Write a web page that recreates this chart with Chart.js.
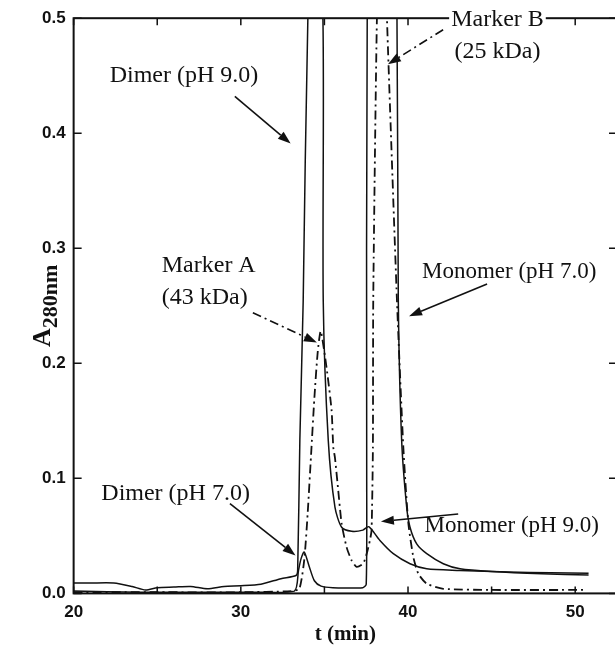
<!DOCTYPE html>
<html lang="en">
<head>
<meta charset="UTF-8">
<title>A280 elution profiles</title>
<script src="https://cdn.jsdelivr.net/npm/chart.js"></script>
<style>
  html, body { margin: 0; padding: 0; background: #fff; overflow: hidden; }
  #wrap { width: 615px; height: 652px; overflow: hidden; }
</style>
</head>
<body>
<div id="wrap">
  <canvas id="myChart" width="622" height="652"></canvas>
</div>
<script>
  // elution time (min) and absorbance for each trace
  const tDimer9 = [20, 21, 22.4, 23.5, 24.3, 25, 26, 27, 28, 29, 30, 31.2, 32.4, 33.3, 33.4, 33.53, 33.73, 34.01, 34.45, 34.91, 34.93, 35.23, 35.63, 36.03, 36.63, 37.3, 37.65, 38.32, 39.12, 40.12, 41.12, 43.1, 46, 48.5, 50.8];
  const aDimer9 = [0.009, 0.009, 0.009, 0.006, 0.003, 0.005, 0.0055, 0.006, 0.004, 0.006, 0.0066, 0.008, 0.0128, 0.0156, 0.02, 0.133, 0.254, 0.5, 0.62, 0.5, 0.254, 0.133, 0.075, 0.0575, 0.054, 0.055, 0.058, 0.046, 0.0345, 0.0258, 0.0214, 0.02, 0.0185, 0.018, 0.0175];

  const tMono7 = [20, 24, 28, 31, 33.2, 33.45, 33.6, 33.79, 34.1, 34.4, 34.8, 35.5, 37.3, 37.5, 37.53, 37.56, 38.45, 39.34, 39.42, 39.62, 39.92, 40.12, 40.52, 41.12, 42.11, 43.11, 45, 48, 50.8];
  const aMono7 = [0.002, 0.001, 0.001, 0.001, 0.002, 0.02, 0.03, 0.036, 0.023, 0.011, 0.0063, 0.005, 0.005, 0.008, 0.1, 0.5, 1.3, 0.5, 0.254, 0.133, 0.075, 0.0575, 0.043, 0.0345, 0.0258, 0.0214, 0.019, 0.017, 0.016];

  const tMarkers = [20, 25, 30, 33, 33.5, 33.8, 34.0, 34.2, 34.4, 34.6, 34.78, 35.13, 35.43, 35.53, 35.63, 35.83, 36.03, 36.33, 36.63, 36.93, 37.32, 37.52, 37.72, 37.82, 37.9, 37.92, 38.14, 38.44, 38.74, 39.34, 39.72, 40.02, 40.32, 40.62, 41.12, 42.11, 45, 50.5];
  const aMarkers = [0.001, 0.001, 0.001, 0.002, 0.004, 0.03, 0.07, 0.12, 0.17, 0.21, 0.228, 0.196, 0.159, 0.127, 0.118, 0.089, 0.0605, 0.04, 0.0286, 0.023, 0.026, 0.034, 0.046, 0.055, 0.127, 0.254, 0.5, 0.65, 0.5, 0.254, 0.127, 0.061, 0.0315, 0.017, 0.0084, 0.004, 0.003, 0.003];

  const xTickValues = [20, 25, 30, 35, 40, 45, 50];
  const yTickValues = [0, 0.1, 0.2, 0.3, 0.4, 0.5];

  // labels: text lines, anchor (t, A); arrows: from/to (t, A), dashed or not
  const notes = [
    { lines: ['Dimer (pH 9.0)'], size: 24, at: [26.6, 0.450], from: [29.64, 0.432], to: [32.98, 0.391], dash: [] },
    { lines: ['Marker B', '(25 kDa)'], size: 24, at: [45.35, 0.499], from: [42.10, 0.490], to: [38.80, 0.460], dash: [9, 4, 2, 4], bg: true },
    { lines: ['Monomer (pH 7.0)'], size: 23, at: [46.05, 0.279], from: [44.73, 0.269], to: [40.06, 0.241], dash: [] },
    { lines: ['Marker A', '(43 kDa)'], size: 24, at: [25.27, 0.2847], align: 'left', from: [30.72, 0.244], to: [34.55, 0.218], dash: [9, 4, 2, 4] },
    { lines: ['Dimer (pH 7.0)'], size: 24, at: [26.1, 0.087], from: [29.35, 0.078], to: [33.27, 0.033], dash: [] },
    { lines: ['Monomer (pH 9.0)'], size: 23, at: [46.2, 0.059], from: [43.0, 0.069], to: [38.38, 0.0625], dash: [] }
  ];

  const pts = (ts, as) => ts.map((t, i) => ({ x: t, y: as[i] }));

  const decor = {
    id: 'decor',
    afterDraw(chart) {
      const { ctx, chartArea: a, scales: { x, y } } = chart;
      ctx.save();
      ctx.strokeStyle = '#111';
      ctx.fillStyle = '#111';
      // frame
      ctx.lineWidth = 2;
      ctx.strokeRect(a.left, a.top, a.right - a.left, a.bottom - a.top);
      // inward ticks
      ctx.lineWidth = 1.5;
      ctx.beginPath();
      xTickValues.forEach(v => {
        const px = x.getPixelForValue(v);
        ctx.moveTo(px, a.bottom); ctx.lineTo(px, a.bottom - 7);
        ctx.moveTo(px, a.top); ctx.lineTo(px, a.top + 7);
      });
      yTickValues.forEach(v => {
        const py = y.getPixelForValue(v);
        ctx.moveTo(a.left, py); ctx.lineTo(a.left + 8, py);
        ctx.moveTo(a.right, py); ctx.lineTo(a.right - 8, py);
      });
      ctx.stroke();

      // y title with subscript
      ctx.save();
      ctx.translate(50, (a.top + a.bottom) / 2);
      ctx.rotate(-Math.PI / 2);
      ctx.textBaseline = 'alphabetic';
      ctx.font = 'bold 26px "Liberation Serif"';
      const w = ctx.measureText('A').width;
      ctx.font = 'bold 22px "Liberation Serif"';
      const w2 = ctx.measureText('280nm').width;
      const sx = -(w + w2) / 2;
      ctx.fillText('280nm', sx + w, 7);
      ctx.font = 'bold 26px "Liberation Serif"';
      ctx.fillText('A', sx, 0);
      ctx.restore();

      // annotations
      ctx.textBaseline = 'middle';
      notes.forEach(n => {
        ctx.font = n.size + 'px "Liberation Serif"';
        const cx = x.getPixelForValue(n.at[0]);
        const cy = y.getPixelForValue(n.at[1]);
        ctx.textAlign = n.align || 'center';
        n.lines.forEach((s, i) => {
          if (n.bg) {
            const tw = ctx.measureText(s).width;
            ctx.fillStyle = '#fff';
            ctx.fillRect(cx - tw / 2 - 2, cy + i * 32 - 12, tw + 4, 24);
            ctx.fillStyle = '#111';
          }
          ctx.fillText(s, cx, cy + i * 32);
        });
        const x0 = x.getPixelForValue(n.from[0]), y0 = y.getPixelForValue(n.from[1]);
        const x1 = x.getPixelForValue(n.to[0]), y1 = y.getPixelForValue(n.to[1]);
        const ang = Math.atan2(y1 - y0, x1 - x0);
        const hl = 13, hw = 4.5;
        const bx = x1 - hl * Math.cos(ang), by = y1 - hl * Math.sin(ang);
        ctx.lineWidth = 1.6;
        ctx.setLineDash(n.dash);
        ctx.beginPath();
        ctx.moveTo(x0, y0); ctx.lineTo(bx, by);
        ctx.stroke();
        ctx.setLineDash([]);
        ctx.beginPath();
        ctx.moveTo(x1, y1);
        ctx.lineTo(bx + hw * Math.sin(ang), by - hw * Math.cos(ang));
        ctx.lineTo(bx - hw * Math.sin(ang), by + hw * Math.cos(ang));
        ctx.closePath();
        ctx.fill();
      });
      ctx.restore();
    }
  };

  const ctx = document.getElementById('myChart');

  new Chart(ctx, {
    type: 'line',
    data: {
      datasets: [
        { label: 'Dimer (pH 9.0)', data: pts(tDimer9, aDimer9), borderColor: '#111', borderWidth: 1.5, pointRadius: 0, tension: 0.25 },
        { label: 'Monomer (pH 7.0)', data: pts(tMono7, aMono7), borderColor: '#111', borderWidth: 1.5, pointRadius: 0, tension: 0.25 },
        { label: 'Markers', data: pts(tMarkers, aMarkers), borderColor: '#111', borderWidth: 1.8, borderDash: [9, 4, 2, 4], pointRadius: 0, tension: 0.2 }
      ]
    },
    options: {
      responsive: false,
      animation: false,
      layout: { padding: { left: 34, top: 17, right: 5, bottom: 2 } },
      plugins: { legend: { display: false }, tooltip: { enabled: false } },
      scales: {
        x: {
          type: 'linear', min: 20, max: 52.5,
          grid: { display: false, drawTicks: false },
          border: { display: false },
          afterBuildTicks: s => { s.ticks = xTickValues.map(v => ({ value: v })); },
          ticks: {
            color: '#111', padding: 9, maxRotation: 0,
            font: { family: 'Liberation Sans', size: 17, weight: 'bold' },
            callback: v => (v % 10 === 0 ? String(v) : '')
          },
          title: {
            display: true, text: 't (min)', color: '#111',
            font: { family: 'Liberation Serif', size: 21, weight: 'bold' },
            padding: { top: -10, bottom: 3 }
          }
        },
        y: {
          min: 0, max: 0.5,
          grid: { display: false, drawTicks: false },
          border: { display: false },
          afterBuildTicks: s => { s.ticks = yTickValues.map(v => ({ value: v })); },
          ticks: {
            color: '#111', padding: 8,
            font: { family: 'Liberation Sans', size: 17, weight: 'bold' },
            callback: v => v.toFixed(1)
          }
        }
      }
    },
    plugins: [decor]
  });
</script>
</body>
</html>
